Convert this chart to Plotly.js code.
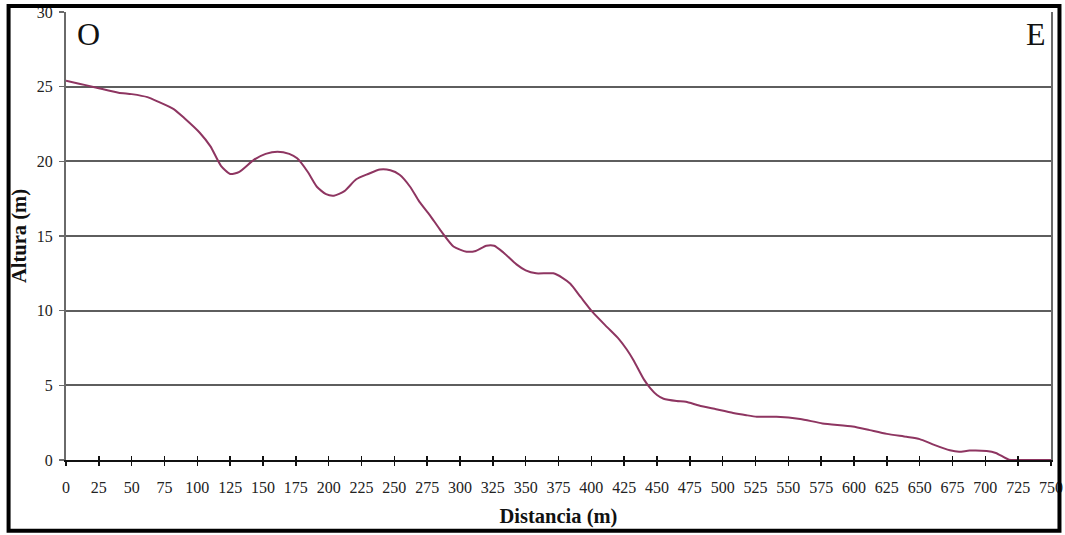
<!DOCTYPE html>
<html><head><meta charset="utf-8">
<script src="https://cdn.plot.ly/plotly-3.0.1.min.js"></script>
<style>html,body{margin:0;padding:0;background:#fff}#chart{width:1065px;height:535px}</style>
</head><body><div id="chart"></div>
<script>
var distancia = [0,10,20,25,40,50,62,70,82,90,102,110,118,125,132,143,152,161,170,176,184,191,198,204,212,221,230,239,247,254,262,269,277,285,295,305,312,320,326,333,343,350,358,371,378,384,392,401,412,421,427,432,440,445,450,455,465,472,482,495,508,518,526,541,559,576,599,612,625,640,650,660,673,680,688,701,708,718,725,750];
var altura = [25.4,25.2,25.0,24.9,24.6,24.5,24.3,24.0,23.5,22.9,21.9,21.0,19.7,19.15,19.3,20.1,20.5,20.65,20.5,20.2,19.3,18.3,17.8,17.7,18.0,18.8,19.15,19.45,19.4,19.1,18.3,17.3,16.4,15.4,14.3,13.95,14.0,14.35,14.35,13.9,13.1,12.7,12.5,12.5,12.2,11.8,10.9,9.9,8.9,8.1,7.4,6.7,5.4,4.8,4.35,4.1,3.95,3.9,3.65,3.4,3.15,3.0,2.9,2.9,2.75,2.45,2.25,2.0,1.75,1.55,1.4,1.05,0.65,0.55,0.63,0.6,0.47,0.02,0,0];
var xTicks = [0,25,50,75,100,125,150,175,200,225,250,275,300,325,350,375,400,425,450,475,500,525,550,575,600,625,650,675,700,725,750];
var yTicks = [0,5,10,15,20,25,30];

var serif = 'Liberation Serif, Times New Roman, serif';
var trace = {x: distancia, y: altura, type: 'scatter', mode: 'lines',
  line: {color: '#8e3561', width: 2, shape: 'spline', smoothing: 0.6}, xaxis: 'x', yaxis: 'y', showlegend: false, hoverinfo: 'skip'};
var dummy = {x: [0], y: [0], xaxis: 'x2', yaxis: 'y', mode: 'markers', marker: {opacity: 0}, showlegend: false, hoverinfo: 'skip'};

var layout = {
  width: 1065, height: 535,
  margin: {l: 65.5, r: 13.5, t: 11.5, b: 74.5},
  paper_bgcolor: '#fff', plot_bgcolor: '#fff',
  font: {family: serif, color: '#222', size: 15},
  xaxis: {range: [0, 750], tickvals: xTicks, ticktext: xTicks.map(String), showgrid: false, zeroline: false,
    showline: true, linecolor: '#111', linewidth: 2, ticks: 'outside', ticklen: 4, tickwidth: 1.4, tickcolor: '#111',
    tickfont: {family: serif, size: 16, color: '#222'}, ticklabelstandoff: 8,
    title: {text: '<b>Distancia (m)</b>', font: {family: serif, size: 20.5, color: '#111'}, standoff: 13}},
  xaxis2: {range: [0, 750], overlaying: 'x', side: 'bottom', anchor: 'y', tickvals: xTicks, showticklabels: false,
    ticks: 'inside', ticklen: 4, tickwidth: 1.4, tickcolor: '#111', showgrid: false, zeroline: false, showline: false},
  yaxis: {range: [0, 30], tickvals: yTicks, ticktext: yTicks.map(String), showgrid: true, gridcolor: '#5e5e5e', gridwidth: 2,
    zeroline: false, showline: true, linecolor: '#6a6a6a', linewidth: 2, mirror: true,
    ticks: 'outside', ticklen: 5, tickwidth: 1.4, tickcolor: '#6a6a6a',
    tickfont: {family: serif, size: 16, color: '#222'}, ticklabelstandoff: 3,
    title: {text: '<b>Altura (m)</b>', font: {family: serif, size: 20.5, color: '#111'}, standoff: 5}},
  shapes: [{type: 'rect', xref: 'paper', yref: 'paper', x0: -0.0583, x1: 1.0086, y0: -0.158, y1: 1.0134,
    line: {color: '#000', width: 4}, fillcolor: 'rgba(0,0,0,0)', layer: 'above'}],
  annotations: [
    {text: 'O', xref: 'paper', yref: 'paper', x: 0.009, y: 0.995, xanchor: 'left', yanchor: 'top', showarrow: false,
      font: {family: serif, size: 32, color: '#111'}},
    {text: 'E', xref: 'paper', yref: 'paper', x: 0.997, y: 0.995, xanchor: 'right', yanchor: 'top', showarrow: false,
      font: {family: serif, size: 32, color: '#111'}}
  ]
};
Plotly.newPlot('chart', [trace, dummy], layout, {staticPlot: true, displayModeBar: false});
</script></body></html>
